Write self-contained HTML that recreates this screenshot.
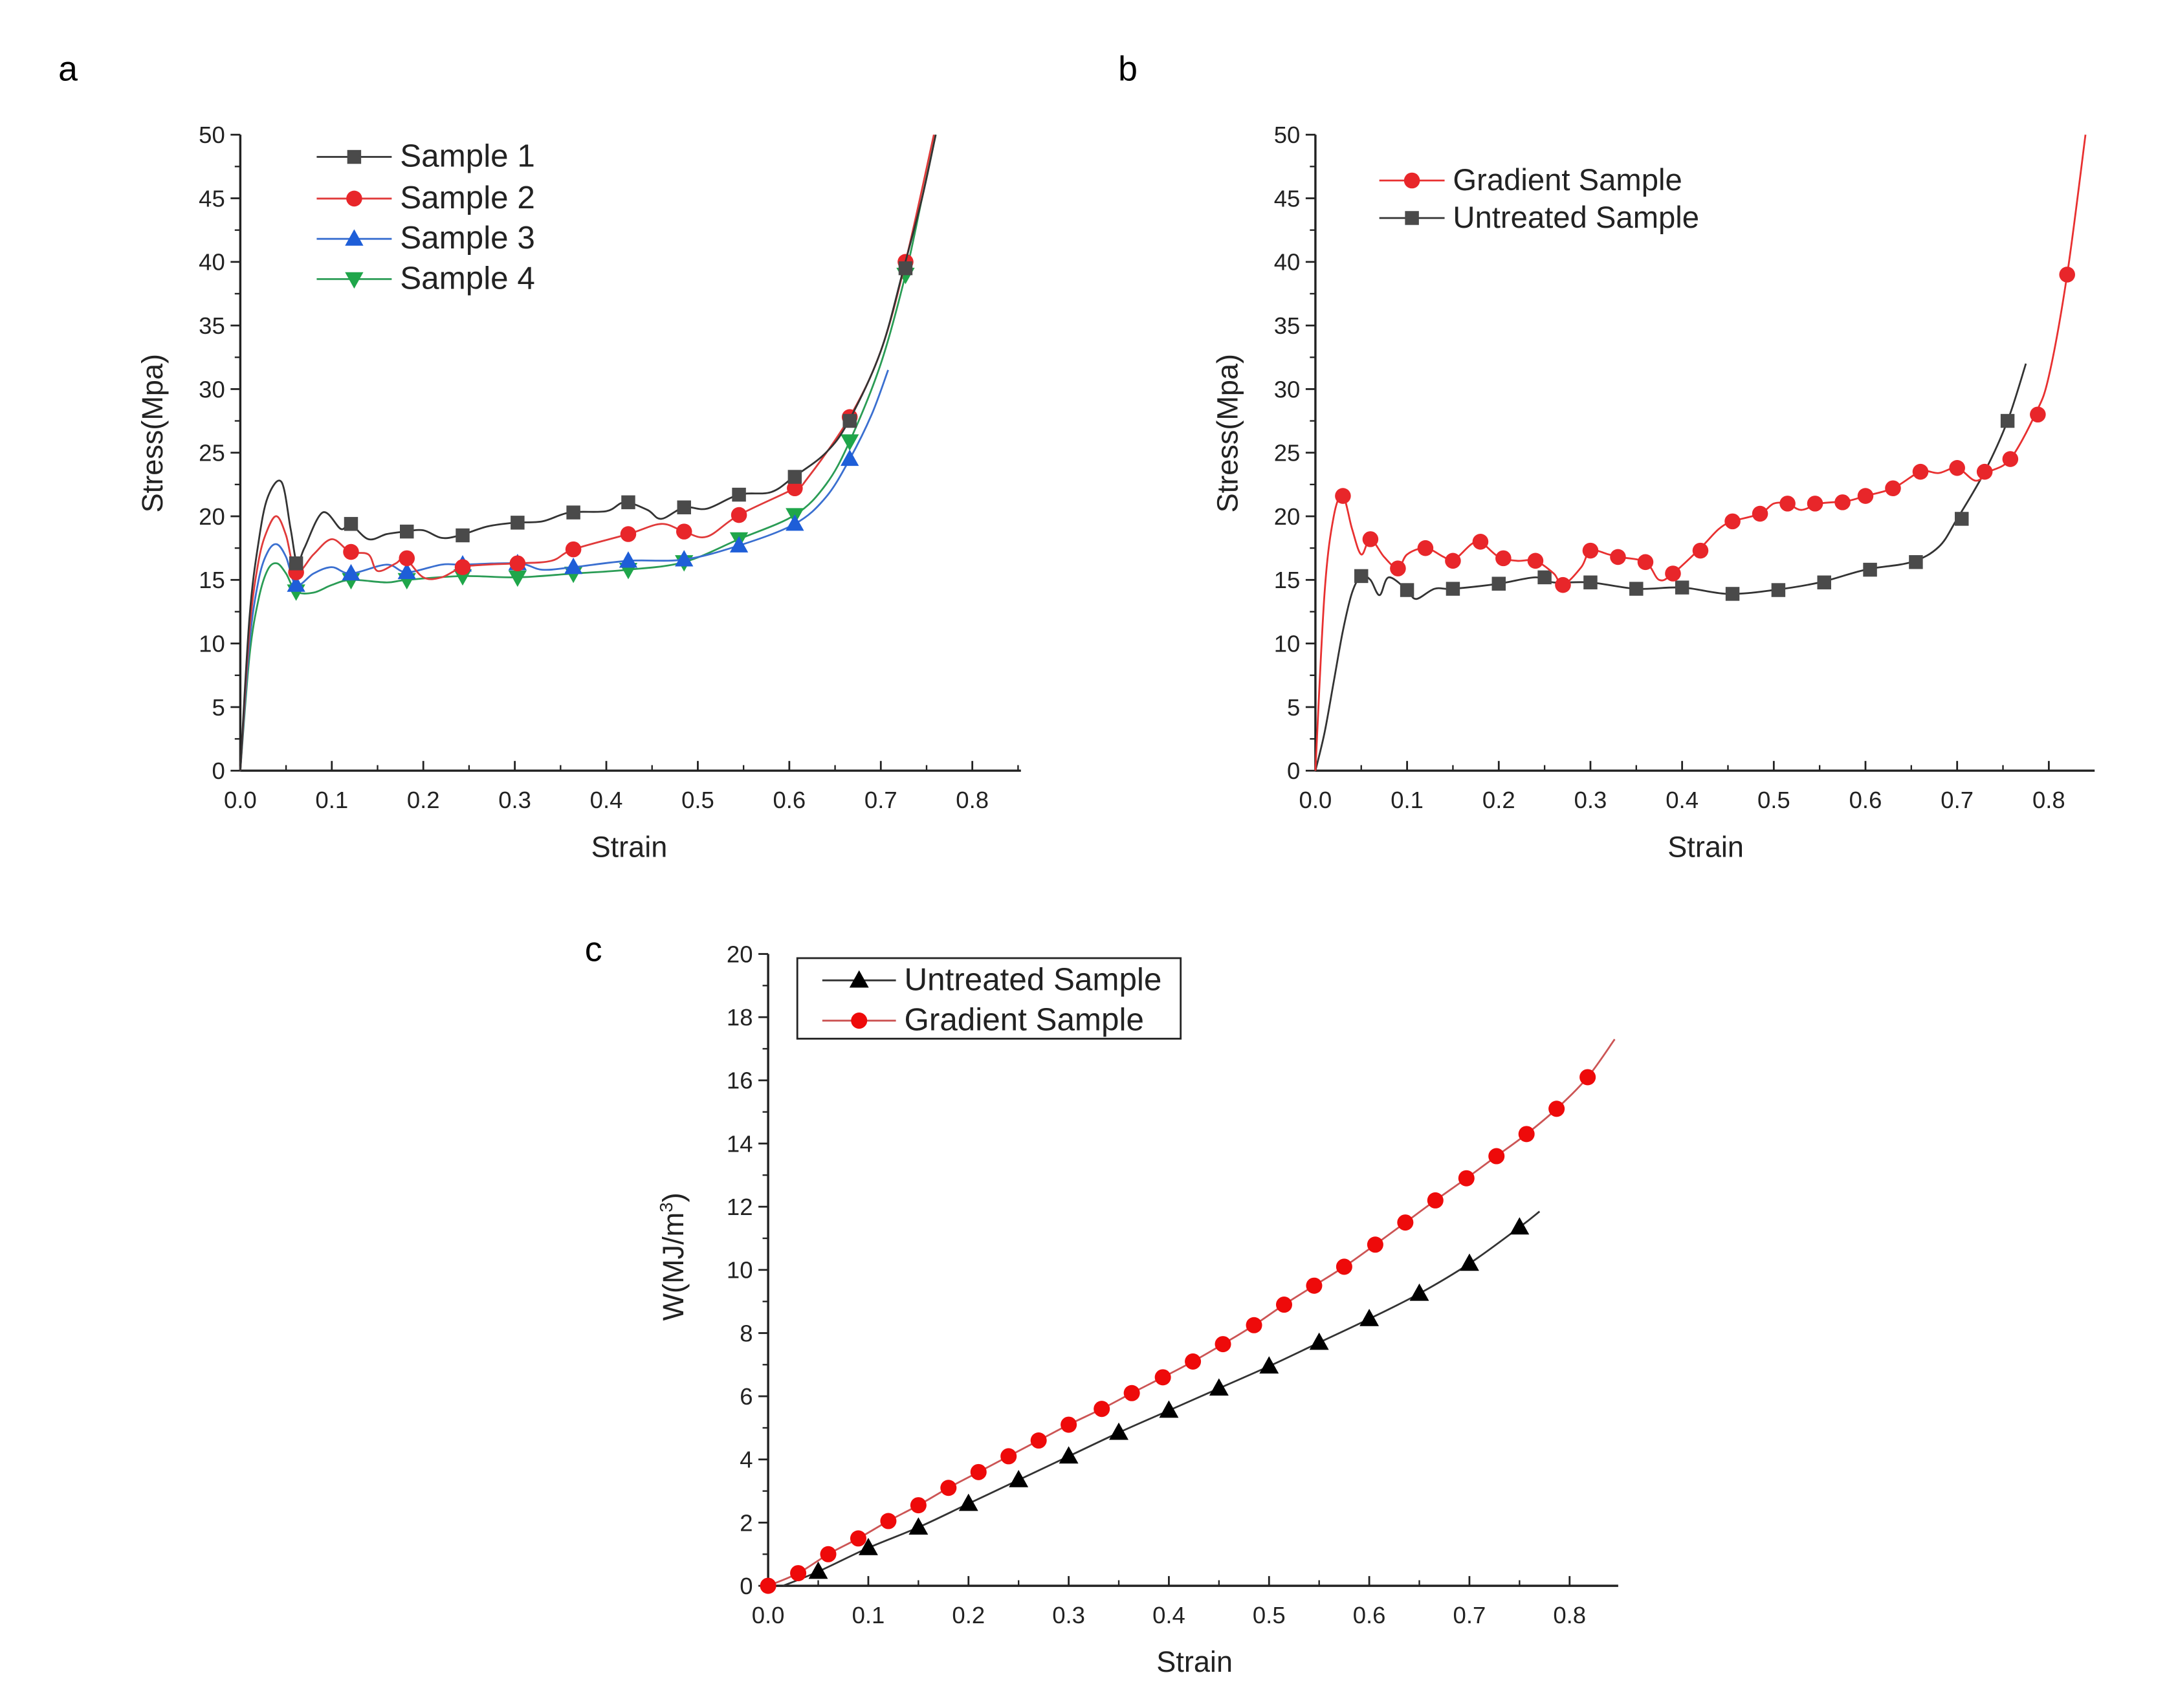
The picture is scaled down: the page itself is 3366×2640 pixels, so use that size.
<!DOCTYPE html>
<html><head><meta charset="utf-8"><style>
html,body{margin:0;padding:0;background:#fff;}
svg{display:block;font-family:"Liberation Sans",Arial,sans-serif;}
</style></head><body>
<svg id="fig" width="3366" height="2640" viewBox="0 0 1568 1230" preserveAspectRatio="none" xmlns="http://www.w3.org/2000/svg">
<rect width="1568" height="1230" fill="#fff"/>
<text x="42" y="58" font-size="25">a</text>
<text x="805" y="58" font-size="25">b</text>
<text x="421" y="692" font-size="25">c</text>
</svg>
<script>
// ---------- DATA ----------
const markerStrainA = [0.061,0.121,0.182,0.243,0.303,0.364,0.424,0.485,0.545,0.606,0.666,0.727];
const s1Curve = [[0,0],[0.01,12],[0.02,18],[0.03,21.5],[0.045,22.7],[0.055,19],[0.062,16.3],[0.07,17.5],[0.09,20.3],[0.11,19],[0.12,19.4],[0.14,18.2],[0.16,18.6],[0.18,18.8],[0.2,18.9],[0.22,18.3],[0.24,18.5],[0.27,19.2],[0.3,19.5],[0.33,19.6],[0.36,20.3],[0.4,20.4],[0.42,21.1],[0.445,20.5],[0.46,19.8],[0.485,20.7],[0.51,20.6],[0.545,21.7],[0.58,21.9],[0.605,23.1],[0.64,25],[0.665,27.5],[0.7,33],[0.725,39.5],[0.745,45],[0.76,50]];
const s1Markers = [16.3,19.4,18.8,18.5,19.5,20.3,21.1,20.7,21.7,23.1,27.5,39.5];
const s2Curve = [[0,0],[0.01,11],[0.02,16.5],[0.03,19],[0.04,20],[0.05,18.5],[0.061,15.6],[0.08,17],[0.1,18.2],[0.12,17.2],[0.14,17],[0.15,15.7],[0.17,16.3],[0.18,16.7],[0.2,15.2],[0.22,15.2],[0.243,16],[0.27,16.2],[0.303,16.3],[0.34,16.5],[0.364,17.4],[0.424,18.6],[0.46,19.4],[0.485,18.8],[0.51,18.4],[0.545,20.1],[0.606,22.2],[0.62,23],[0.666,27.8],[0.7,33],[0.727,40],[0.758,50]];
const s2Markers = [15.6,17.2,16.7,16.0,16.3,17.4,18.6,18.8,20.1,22.2,27.8,40];
const s3Curve = [[0,0],[0.01,10],[0.02,15],[0.03,17.2],[0.04,17.8],[0.05,16.8],[0.061,14.6],[0.08,15.5],[0.1,16],[0.121,15.5],[0.16,16.2],[0.182,15.6],[0.22,16.2],[0.243,16.2],[0.303,16.3],[0.33,15.8],[0.364,16],[0.424,16.5],[0.485,16.6],[0.545,17.7],[0.606,19.4],[0.64,21.5],[0.666,24.5],[0.69,28],[0.708,31.5]];
const s3Markers = [14.6,15.5,15.6,16.2,16.3,16.0,16.5,16.6,17.7,19.4,24.5];
const s4Curve = [[0,0],[0.01,9],[0.02,13.5],[0.03,15.8],[0.04,16.3],[0.05,15.5],[0.061,14.1],[0.08,14],[0.1,14.6],[0.121,15],[0.16,14.8],[0.182,15],[0.243,15.3],[0.303,15.2],[0.364,15.5],[0.424,15.8],[0.485,16.4],[0.545,18.2],[0.606,20.1],[0.64,22.5],[0.666,25.9],[0.7,32],[0.727,39],[0.745,45],[0.76,50]];
const s4Markers = [14.1,15.0,15.0,15.3,15.2,15.5,15.8,16.4,18.2,20.1,25.9,39];

const gradCurveB = [[0,0],[0.01,14],[0.02,20],[0.03,21.6],[0.04,19],[0.05,17],[0.06,18.2],[0.075,16.8],[0.09,15.9],[0.1,17],[0.12,17.5],[0.14,16.8],[0.15,16.5],[0.17,17.8],[0.18,18],[0.2,16.8],[0.22,16.5],[0.24,16.5],[0.26,15.5],[0.27,14.6],[0.29,16],[0.3,17.3],[0.32,17],[0.33,16.8],[0.36,16.4],[0.375,15],[0.39,15.5],[0.42,17.5],[0.44,19],[0.455,19.6],[0.485,20.2],[0.5,21],[0.515,21],[0.53,20.5],[0.55,21],[0.58,21.2],[0.6,21.6],[0.63,22.2],[0.66,23.5],[0.68,23.4],[0.7,23.8],[0.72,22.8],[0.735,23.5],[0.758,24.5],[0.785,28],[0.8,31],[0.82,39],[0.84,50]];
const gradMarkStrainB = [0.03,0.06,0.09,0.12,0.15,0.18,0.205,0.24,0.27,0.3,0.33,0.36,0.39,0.42,0.455,0.485,0.515,0.545,0.575,0.6,0.63,0.66,0.7,0.73,0.758,0.788,0.82];
const gradMarkStressB = [21.6,18.2,15.9,17.5,16.5,18,16.7,16.5,14.6,17.3,16.8,16.4,15.5,17.3,19.6,20.2,21,21,21.1,21.6,22.2,23.5,23.8,23.5,24.5,28,39];
const untrCurveB = [[0,0],[0.01,3],[0.02,7],[0.03,11],[0.04,14],[0.05,15.3],[0.06,15],[0.07,13.8],[0.08,15.2],[0.1,14.2],[0.11,13.5],[0.13,14.3],[0.15,14.3],[0.2,14.7],[0.24,15.2],[0.26,14.8],[0.3,14.8],[0.35,14.3],[0.4,14.4],[0.45,13.9],[0.5,14.2],[0.55,14.8],[0.6,15.8],[0.65,16.4],[0.68,17.6],[0.7,19.8],[0.73,23.5],[0.755,27.5],[0.775,32]];
const untrMarkStrainB = [0.05,0.1,0.15,0.2,0.25,0.3,0.35,0.4,0.455,0.505,0.555,0.605,0.655,0.705,0.755];
const untrMarkStressB = [15.3,14.2,14.3,14.7,15.2,14.8,14.3,14.4,13.9,14.2,14.8,15.8,16.4,19.8,27.5];

const gradStrainC = [0,0.03,0.06,0.09,0.12,0.15,0.18,0.21,0.24,0.27,0.30,0.333,0.363,0.394,0.424,0.454,0.485,0.515,0.545,0.575,0.606,0.636,0.666,0.697,0.727,0.757,0.787,0.818];
const gradWorkC = [0,0.4,1.0,1.5,2.05,2.55,3.1,3.6,4.1,4.6,5.1,5.6,6.1,6.6,7.1,7.65,8.25,8.9,9.5,10.1,10.8,11.5,12.2,12.9,13.6,14.3,15.1,16.1];
const gradEndC = [0.845,17.3];
const untrStrainC = [0.015,0.05,0.1,0.15,0.2,0.25,0.3,0.35,0.4,0.45,0.5,0.55,0.6,0.65,0.7,0.75];
const untrWorkC = [0,0.45,1.2,1.85,2.6,3.35,4.1,4.85,5.55,6.25,6.95,7.7,8.45,9.25,10.2,11.35];
const untrEndC = [0.77,11.85];

const xTicks = [0,0.1,0.2,0.3,0.4,0.5,0.6,0.7,0.8];
const xTickLabels = ["0.0","0.1","0.2","0.3","0.4","0.5","0.6","0.7","0.8"];
const yTicksAB = [0,5,10,15,20,25,30,35,40,45,50];
const yTicksC = [0,2,4,6,8,10,12,14,16,18,20];

// ---------- DRAWING ----------
const NS="http://www.w3.org/2000/svg";
const svg=document.getElementById('fig');
function el(tag,attrs,parent){const e=document.createElementNS(NS,tag);for(const k in attrs)e.setAttribute(k,attrs[k]);(parent||svg).appendChild(e);return e;}
function smoothPath(pts){
  let d="M"+pts[0][0].toFixed(2)+","+pts[0][1].toFixed(2);
  for(let i=0;i<pts.length-1;i++){
    const p0=pts[i-1]||pts[i],p1=pts[i],p2=pts[i+1],p3=pts[i+2]||p2;
    const c1=[p1[0]+(p2[0]-p0[0])/6,p1[1]+(p2[1]-p0[1])/6];
    const c2=[p2[0]-(p3[0]-p1[0])/6,p2[1]-(p3[1]-p1[1])/6];
    d+=" C"+c1[0].toFixed(2)+","+c1[1].toFixed(2)+" "+c2[0].toFixed(2)+","+c2[1].toFixed(2)+" "+p2[0].toFixed(2)+","+p2[1].toFixed(2);
  }
  return d;
}
function marker(g,type,x,y,color,s){
  let m;
  if(type==='square') m=el('rect',{x:x-s,y:y-s,width:2*s,height:2*s,fill:color},g);
  else if(type==='circle') m=el('circle',{cx:x,cy:y,r:s*1.1,fill:color},g);
  else if(type==='up') m=el('polygon',{points:`${x},${y-s*1.25} ${x-s*1.2},${y+s*0.9} ${x+s*1.2},${y+s*0.9}`,fill:color},g);
  else m=el('polygon',{points:`${x},${y+s*1.25} ${x-s*1.2},${y-s*0.9} ${x+s*1.2},${y-s*0.9}`,fill:color},g);
  return m;
}
function makeAxes(o){
  const sx=v=>o.x0+v*o.kx, sy=v=>o.y0-v*o.ky;
  const g=el('g',{});
  
  
  el('line',{x1:o.x0,y1:o.y0,x2:o.xEnd,y2:o.y0,stroke:'#222','stroke-width':1.6},g);
  el('line',{x1:o.x0,y1:o.y0,x2:o.x0,y2:o.yTop,stroke:'#222','stroke-width':1.6},g);
  xTicks.forEach((t,i)=>{
    const x=sx(t);
    el('line',{x1:x,y1:o.y0,x2:x,y2:o.y0-7,stroke:'#222','stroke-width':1.3},g);
    const lbl=el('text',{x:x,y:o.y0+27,'font-size':17,'text-anchor':'middle',fill:'#222'},g);
    lbl.textContent=xTickLabels[i];
    
    
    const mx=sx(t+0.05);
    if(mx<o.xEnd) el('line',{x1:mx,y1:o.y0,x2:mx,y2:o.y0-4,stroke:'#222','stroke-width':1.1},g);
  });
  const yt=o.yTicks, step=yt[1]-yt[0];
  yt.forEach(t=>{
    const y=sy(t);
    el('line',{x1:o.x0,y1:y,x2:o.x0-7,y2:y,stroke:'#222','stroke-width':1.3},g);
    if(t<yt[yt.length-1]) el('line',{x1:o.x0,y1:sy(t+step/2),x2:o.x0-4,y2:sy(t+step/2),stroke:'#222','stroke-width':1.1},g);
    const lbl=el('text',{x:o.x0-11,y:y+6,'font-size':17,'text-anchor':'end',fill:'#222'},g);
    lbl.textContent=String(t);
    
    
  });
  const xt=el('text',{x:o.xTitleX,y:o.y0+62,'font-size':21,'text-anchor':'middle',fill:'#222'},g);
  xt.textContent='Strain';
  
  
  const ytl=el('text',{x:0,y:0,'font-size':21,'text-anchor':'middle',fill:'#222',transform:`translate(${o.yTitleX},${o.yTitleY}) rotate(-90)`},g);
  if(o.ylabelHTML){ytl.innerHTML=o.ylabelHTML;} else ytl.textContent=o.ylabel;
  
  
  return {sx,sy};
}
function drawSeries(ax,name,curve,mx,my,type,color,lineColor,ms){
  const g=el('g',{});
  
  
  const p=el('path',{d:smoothPath(curve.map(c=>[ax.sx(c[0]),ax.sy(c[1])])),fill:'none',stroke:lineColor,'stroke-width':1.3},g);
  
  
  mx.forEach((x,i)=>{
    const m=marker(g,type,ax.sx(x),ax.sy(my[i]),color,ms);
    
    
  });
}
function legendEntry(name,x1,x2,y,type,color,lineColor,ms,label,tx,fs){
  const g=el('g',{});
  
  
  el('line',{x1:x1,y1:y,x2:x2,y2:y,stroke:lineColor,'stroke-width':1.3},g);
  marker(g,type,(x1+x2)/2,y,color,ms);
  const t=el('text',{x:tx,y:y+7,'font-size':fs,fill:'#222'},g);
  t.textContent=label;
}

// Panel a
const axA=makeAxes({name:'panel-a',x0:173,y0:555,kx:658.75,ky:9.16,xEnd:735,yTop:97,yTicks:yTicksAB,xTitleX:453,yTitleX:117,yTitleY:312,ylabel:'Stress(Mpa)'});
const bS3=markerStrainA.slice(0,s3Markers.length);
drawSeries(axA,'sample-4-series',s4Curve,markerStrainA,s4Markers,'down','#1fa64a','#2a9c55',5.5);
drawSeries(axA,'sample-3-series',s3Curve,bS3,s3Markers,'up','#1e5ed8','#3a6fd0',5.5);
drawSeries(axA,'sample-2-series',s2Curve,markerStrainA,s2Markers,'circle','#e8262a','#e03a3a',5.2);
drawSeries(axA,'sample-1-series',s1Curve,markerStrainA,s1Markers,'square','#4a4a4a','#333',5);
legendEntry('legend-sample-1',228,282,113,'square','#4a4a4a','#333',5,'Sample 1',288,23);
legendEntry('legend-sample-2',228,282,143,'circle','#e8262a','#e03a3a',5.2,'Sample 2',288,23);
legendEntry('legend-sample-3',228,282,172,'up','#1e5ed8','#3a6fd0',5.5,'Sample 3',288,23);
legendEntry('legend-sample-4',228,282,201,'down','#1fa64a','#2a9c55',5.5,'Sample 4',288,23);

// Panel b
const axB=makeAxes({name:'panel-b',x0:947,y0:555,kx:660,ky:9.16,xEnd:1508,yTop:97,yTicks:yTicksAB,xTitleX:1228,yTitleX:891,yTitleY:312,ylabel:'Stress(Mpa)'});
drawSeries(axB,'untreated-sample-series',untrCurveB,untrMarkStrainB,untrMarkStressB,'square','#4a4a4a','#333',5);
drawSeries(axB,'gradient-sample-series',gradCurveB,gradMarkStrainB,gradMarkStressB,'circle','#e8262a','#e83030',5.2);
legendEntry('legend-gradient-sample',993,1040,130,'circle','#e8262a','#e83030',5.2,'Gradient Sample',1046,22);
legendEntry('legend-untreated-sample',993,1040,157,'square','#4a4a4a','#333',5,'Untreated Sample',1046,22);

// Panel c
const axC=makeAxes({name:'panel-c',x0:553,y0:1142,kx:721.25,ky:22.75,xEnd:1165,yTop:687,yTicks:yTicksC,xTitleX:860,yTitleX:492,yTitleY:905,ylabelHTML:'W(MJ/m<tspan dy="-8" font-size="13">3</tspan><tspan dy="8">)</tspan>'});
drawSeries(axC,'untreated-work-series',untrStrainC.map((x,i)=>[x,untrWorkC[i]]).concat([untrEndC]),untrStrainC.slice(1),untrWorkC.slice(1),'up','#000','#333',5.8);
drawSeries(axC,'gradient-work-series',gradStrainC.map((x,i)=>[x,gradWorkC[i]]).concat([gradEndC]),gradStrainC,gradWorkC,'circle','#ee0a0a','#c55',5.3);
const lb=el('rect',{x:574,y:690,width:276,height:58,fill:'#fff',stroke:'#222','stroke-width':1.3});


legendEntry('legend-untreated-work',592,645,706,'up','#000','#333',5.8,'Untreated Sample',651,23);
legendEntry('legend-gradient-work',592,645,735,'circle','#ee0a0a','#c55',5.3,'Gradient Sample',651,23);
</script>
</body></html>
